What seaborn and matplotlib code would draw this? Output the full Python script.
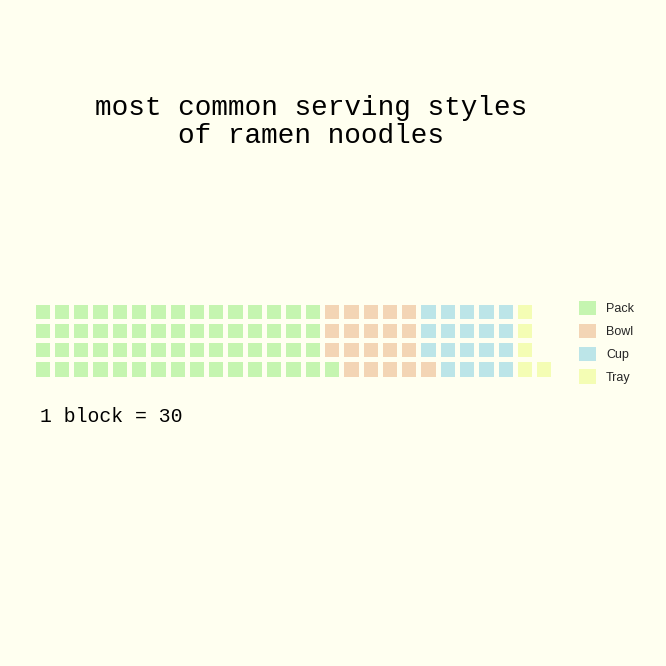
import numpy as np
import pandas as pd
import seaborn as sns
import matplotlib
matplotlib.use("Agg")
import matplotlib.pyplot as plt
from matplotlib.colors import ListedColormap
from matplotlib.patches import Patch

# ---- data ----
categories = ["Pack", "Bowl", "Cup", "Tray"]
blocks = [61, 20, 19, 5]          # 1 block = 30
colors = ["#c5f5b0", "#f3d5b5", "#bce5e8", "#f4fdb4"]
title = "most common serving styles\nof ramen noodles"
note = "1 block = 30"

BG = "#fffff0"
n_rows = 4
total = sum(blocks)
n_cols = int(np.ceil(total / n_rows))

# category index per block, column-major, filled from the bottom row upward
grid = np.full((n_rows, n_cols), np.nan)
idx = 0
for ci, n in enumerate(blocks):
    for _ in range(n):
        col = idx // n_rows
        row = n_rows - 1 - (idx % n_rows)
        grid[row, col] = ci
        idx += 1
df = pd.DataFrame(grid)

sns.set_theme(style="white")
plt.rcParams["font.family"] = ["Liberation Sans", "DejaVu Sans"]

fig = plt.figure(figsize=(6.66, 6.66), dpi=100, facecolor=BG)
ax = fig.add_axes([32.5 / 666, 1 - 378.5 / 666, 521 / 666, 77 / 666])
ax.set_facecolor(BG)

sns.heatmap(df, ax=ax, cmap=ListedColormap(colors), vmin=-0.5, vmax=len(colors) - 0.5,
            cbar=False, linewidths=3.6, linecolor=BG, square=False,
            xticklabels=False, yticklabels=False)
ax.set_xlabel("")
ax.set_ylabel("")
for s in ax.spines.values():
    s.set_visible(False)

fig.text(311 / 666, 1 - 122 / 666, title, ha="center", va="center",
         fontsize=20, family=["Liberation Mono", "DejaVu Sans Mono"],
         linespacing=1.12, color="black")
fig.text(40 / 666, 1 - 416 / 666, note, ha="left", va="center",
         fontsize=14.2, family=["Liberation Mono", "DejaVu Sans Mono"], color="black")

handles = [Patch(facecolor=c, edgecolor="none", label=l) for c, l in zip(colors, categories)]
fig.legend(handles=handles, loc="upper left", bbox_to_anchor=(579 / 666, 1 - 301 / 666),
           frameon=False, fontsize=9, borderpad=0, borderaxespad=0,
           handlelength=1.36, handleheight=1.4, handletextpad=0.8, labelspacing=0.67)

fig.savefig("out.png", dpi=100, facecolor=BG)
